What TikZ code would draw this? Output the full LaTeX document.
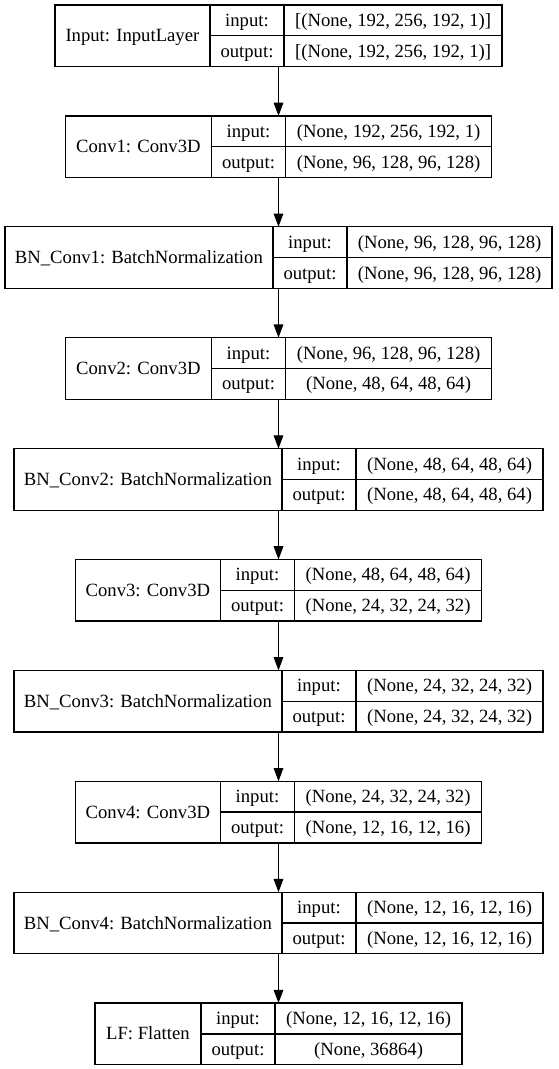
\documentclass[tikz,border=0pt]{standalone}
\usepackage{fontspec}
\setmainfont{Liberation Serif}
\usetikzlibrary{arrows.meta}

% One layer record: name | input:/output: | shapes
% #1 id, #2 top y, #3 #4 #5 column widths, #6 layer name, #7 input shape, #8 output shape
\newcommand\layerbox[8]{%
  \pgfmathsetmacro\lx{278.5-(#3+#4+#5)/2}%
  \pgfmathsetmacro\la{\lx+#3}%
  \pgfmathsetmacro\lb{\la+#4}%
  \pgfmathsetmacro\lw{#3+#4+#5}%
  \pgfmathsetmacro\ly{#2+30.8}%
  \node[box, minimum width=\lw pt] (#1) at (278.5,\ly) {};
  \draw[rule] (\la,#2) -- (\la,{#2+61.6});
  \draw[rule] (\lb,#2) -- (\lb,{#2+61.6});
  \draw[rule] (\la,\ly) -- (#1.east);
  \node[txt] (#1-name) at ({\lx+#3/2},\ly) {#6};
  \node[txt] (#1-inlbl) at ({\la+#4/2},{\ly-15.4}) {input:};
  \node[txt] (#1-outlbl) at ({\la+#4/2},{\ly+15.4}) {output:};
  \node[txt] (#1-in) at ({\lb+#5/2},{\ly-15.4}) {#7};
  \node[txt] (#1-out) at ({\lb+#5/2},{\ly+15.4}) {#8};
}

\begin{document}
\begin{tikzpicture}[x=1pt,y=-1pt,
  box/.style={draw=black, line width=1.33pt, inner sep=0pt, outer sep=0pt, minimum height=61.6pt},
  rule/.style={draw=black, line width=1.33pt},
  txt/.style={font=\fontsize{18.67}{22}\selectfont, inner sep=0pt, text height=13pt, text depth=1pt},
  flow/.style={draw=black, line width=1.33pt, -{Triangle[length=13.3pt,width=9.6pt]}}]
\useasboundingbox (0,0) rectangle (559,1069);

\layerbox{L0}{5}{155}{74.2}{218}{Input: InputLayer}{[(None, 192, 256, 192, 1)]}{[(None, 192, 256, 192, 1)]}
\layerbox{L1}{115.9}{146}{74.2}{206}{Conv1: Conv3D}{(None, 192, 256, 192, 1)}{(None, 96, 128, 96, 128)}
\layerbox{L2}{226.8}{268}{74.2}{205}{BN\_Conv1: BatchNormalization}{(None, 96, 128, 96, 128)}{(None, 96, 128, 96, 128)}
\layerbox{L3}{337.7}{146}{74.2}{206}{Conv2: Conv3D}{(None, 96, 128, 96, 128)}{(None, 48, 64, 48, 64)}
\layerbox{L4}{448.6}{268}{74.2}{187}{BN\_Conv2: BatchNormalization}{(None, 48, 64, 48, 64)}{(None, 48, 64, 48, 64)}
\layerbox{L5}{559.5}{145}{74.2}{187}{Conv3: Conv3D}{(None, 48, 64, 48, 64)}{(None, 24, 32, 24, 32)}
\layerbox{L6}{670.4}{268}{74.2}{187}{BN\_Conv3: BatchNormalization}{(None, 24, 32, 24, 32)}{(None, 24, 32, 24, 32)}
\layerbox{L7}{781.3}{145}{74.2}{187}{Conv4: Conv3D}{(None, 24, 32, 24, 32)}{(None, 12, 16, 12, 16)}
\layerbox{L8}{892.2}{268}{74.2}{187}{BN\_Conv4: BatchNormalization}{(None, 12, 16, 12, 16)}{(None, 12, 16, 12, 16)}
\layerbox{L9}{1003.1}{106}{74.2}{187}{LF: Flatten}{(None, 12, 16, 12, 16)}{(None, 36864)}

\foreach \a/\b in {L0/L1,L1/L2,L2/L3,L3/L4,L4/L5,L5/L6,L6/L7,L7/L8,L8/L9}
  \draw[flow] (\a.south) -- (\b.north);
\end{tikzpicture}
\end{document}
